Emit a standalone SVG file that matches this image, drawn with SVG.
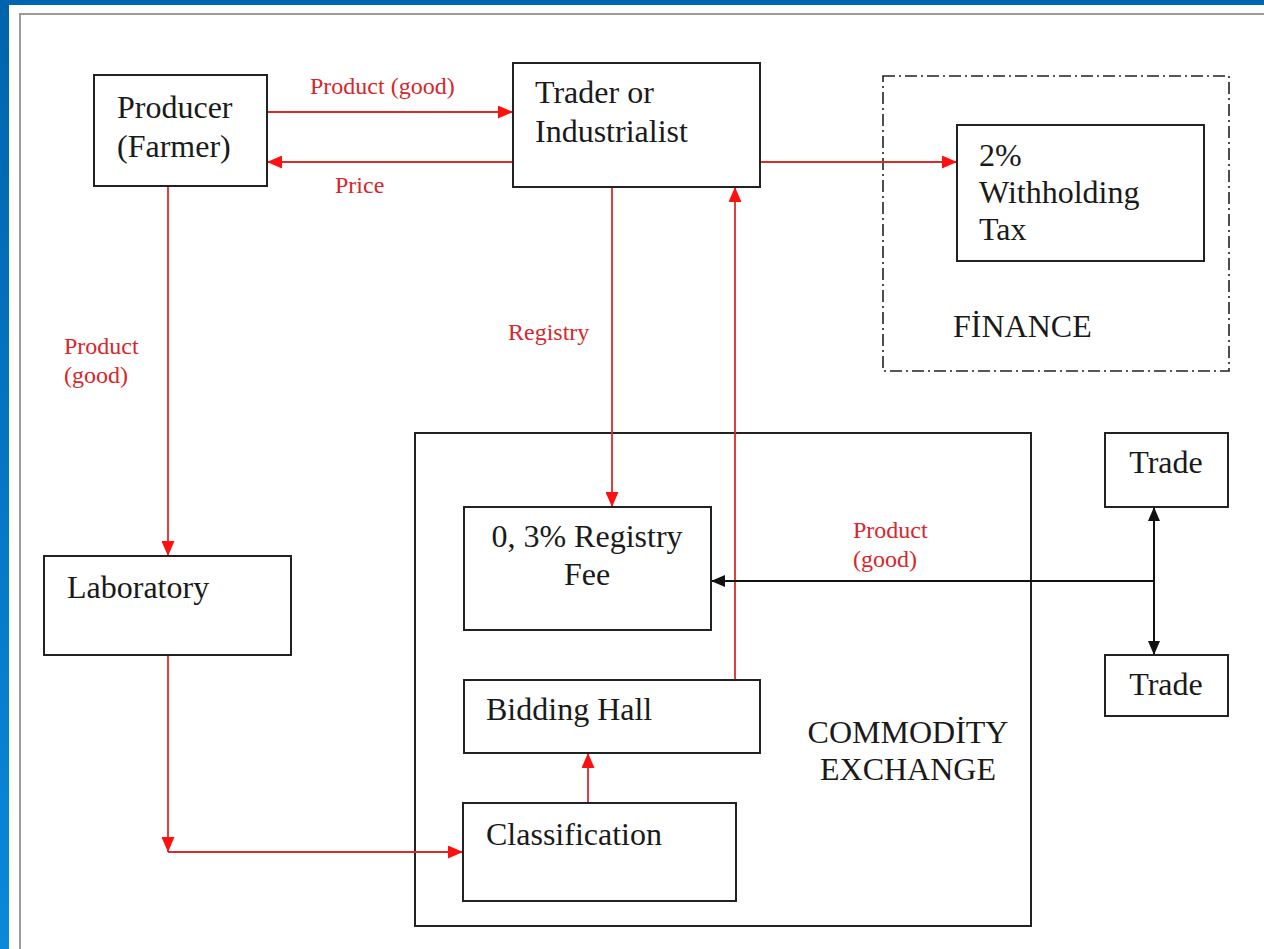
<svg xmlns="http://www.w3.org/2000/svg" width="1264" height="949" viewBox="0 0 1264 949">
<defs>
<linearGradient id="blueBar" x1="0" y1="0" x2="0" y2="1">
<stop offset="0" stop-color="#0064ac"/>
<stop offset="1" stop-color="#0a88dc"/>
</linearGradient>
<marker id="ar" markerUnits="userSpaceOnUse" markerWidth="15" markerHeight="13" refX="15" refY="6.5" orient="auto">
<path d="M0,0 L15,6.5 L0,13 z" fill="#ff1010"/>
</marker>
<marker id="ab" markerUnits="userSpaceOnUse" markerWidth="14" markerHeight="12" refX="14" refY="6" orient="auto-start-reverse">
<path d="M0,0 L14,6 L0,12 z" fill="#111"/>
</marker>
<style>
.box{fill:#fff;stroke:#222;stroke-width:2}
.t{font-family:"Liberation Serif","Times New Roman",serif;font-size:32px;fill:#1a1a1a}
.lbl{font-family:"Liberation Serif","Times New Roman",serif;font-size:24px;fill:#d8262c}
.rl{fill:none;stroke:#dc2a2a;stroke-width:1.8;marker-end:url(#ar)}
.bl{fill:none;stroke:#111;stroke-width:2}
</style>
</defs>
<rect x="0" y="0" width="1264" height="949" fill="#fff"/>
<rect x="0" y="0" width="1264" height="5" fill="#0066ae"/>
<rect x="0" y="0" width="9" height="949" fill="url(#blueBar)"/>
<path d="M20,949 V14 H1264" fill="none" stroke="#9a9a9a" stroke-width="2"/>

<g id="commodity-exchange">
<rect class="box" x="415" y="433" width="616" height="493" fill="none"/>
<text class="t" x="908" y="743" text-anchor="middle">COMMODİTY</text>
<text class="t" x="908" y="780" text-anchor="middle">EXCHANGE</text>
</g>
<g id="finance">
<rect x="883" y="76" width="346" height="295" fill="none" stroke="#222" stroke-width="1.6" stroke-dasharray="12 4 2 4"/>
<text class="t" x="953" y="337">FİNANCE</text>
</g>

<g id="connectors">
<path class="rl" d="M267,112 H513"/>
<path class="rl" d="M513,162 H267"/>
<path class="rl" d="M760,162 H957"/>
<path class="rl" d="M612,187 V507"/>
<path class="rl" d="M735,680 V187"/>
<path class="rl" d="M168,186 V556"/>
<path class="rl" d="M168,655 V852"/>
<path class="rl" d="M168,852 H463"/>
<path class="rl" d="M588,803 V753"/>
<path class="bl" d="M1154,581 H711" marker-end="url(#ab)"/>
<path class="bl" d="M1154,507 V655" marker-start="url(#ab)" marker-end="url(#ab)"/>
<text class="lbl" x="310" y="94">Product (good)</text>
<text class="lbl" x="335" y="193">Price</text>
<text class="lbl" x="64" y="354">Product</text>
<text class="lbl" x="64" y="383">(good)</text>
<text class="lbl" x="508" y="340">Registry</text>
<text class="lbl" x="853" y="538">Product</text>
<text class="lbl" x="853" y="567">(good)</text>
</g>

<g id="producer">
<rect class="box" x="94" y="75" width="173" height="111"/>
<text class="t" x="117" y="118">Producer</text>
<text class="t" x="117" y="157">(Farmer)</text>
</g>
<g id="trader">
<rect class="box" x="513" y="63" width="247" height="124"/>
<text class="t" x="535" y="103">Trader or</text>
<text class="t" x="535" y="142">Industrialist</text>
</g>
<g id="withholding-tax">
<rect class="box" x="957" y="125" width="247" height="136"/>
<text class="t" x="979" y="166">2%</text>
<text class="t" x="979" y="203">Withholding</text>
<text class="t" x="979" y="240">Tax</text>
</g>
<g id="laboratory">
<rect class="box" x="44" y="556" width="247" height="99"/>
<text class="t" x="67" y="598">Laboratory</text>
</g>
<g id="registry-fee">
<rect class="box" x="464" y="507" width="247" height="123"/>
<text class="t" x="587" y="547" text-anchor="middle">0, 3% Registry</text>
<text class="t" x="587" y="585" text-anchor="middle">Fee</text>
</g>
<g id="bidding-hall">
<rect class="box" x="464" y="680" width="296" height="73"/>
<text class="t" x="486" y="720">Bidding Hall</text>
</g>
<g id="classification">
<rect class="box" x="463" y="803" width="273" height="98"/>
<text class="t" x="486" y="845">Classification</text>
</g>
<g id="trade-top">
<rect class="box" x="1105" y="433" width="123" height="74"/>
<text class="t" x="1166" y="473" text-anchor="middle">Trade</text>
</g>
<g id="trade-bottom">
<rect class="box" x="1105" y="655" width="123" height="61"/>
<text class="t" x="1166" y="695" text-anchor="middle">Trade</text>
</g>
</svg>
